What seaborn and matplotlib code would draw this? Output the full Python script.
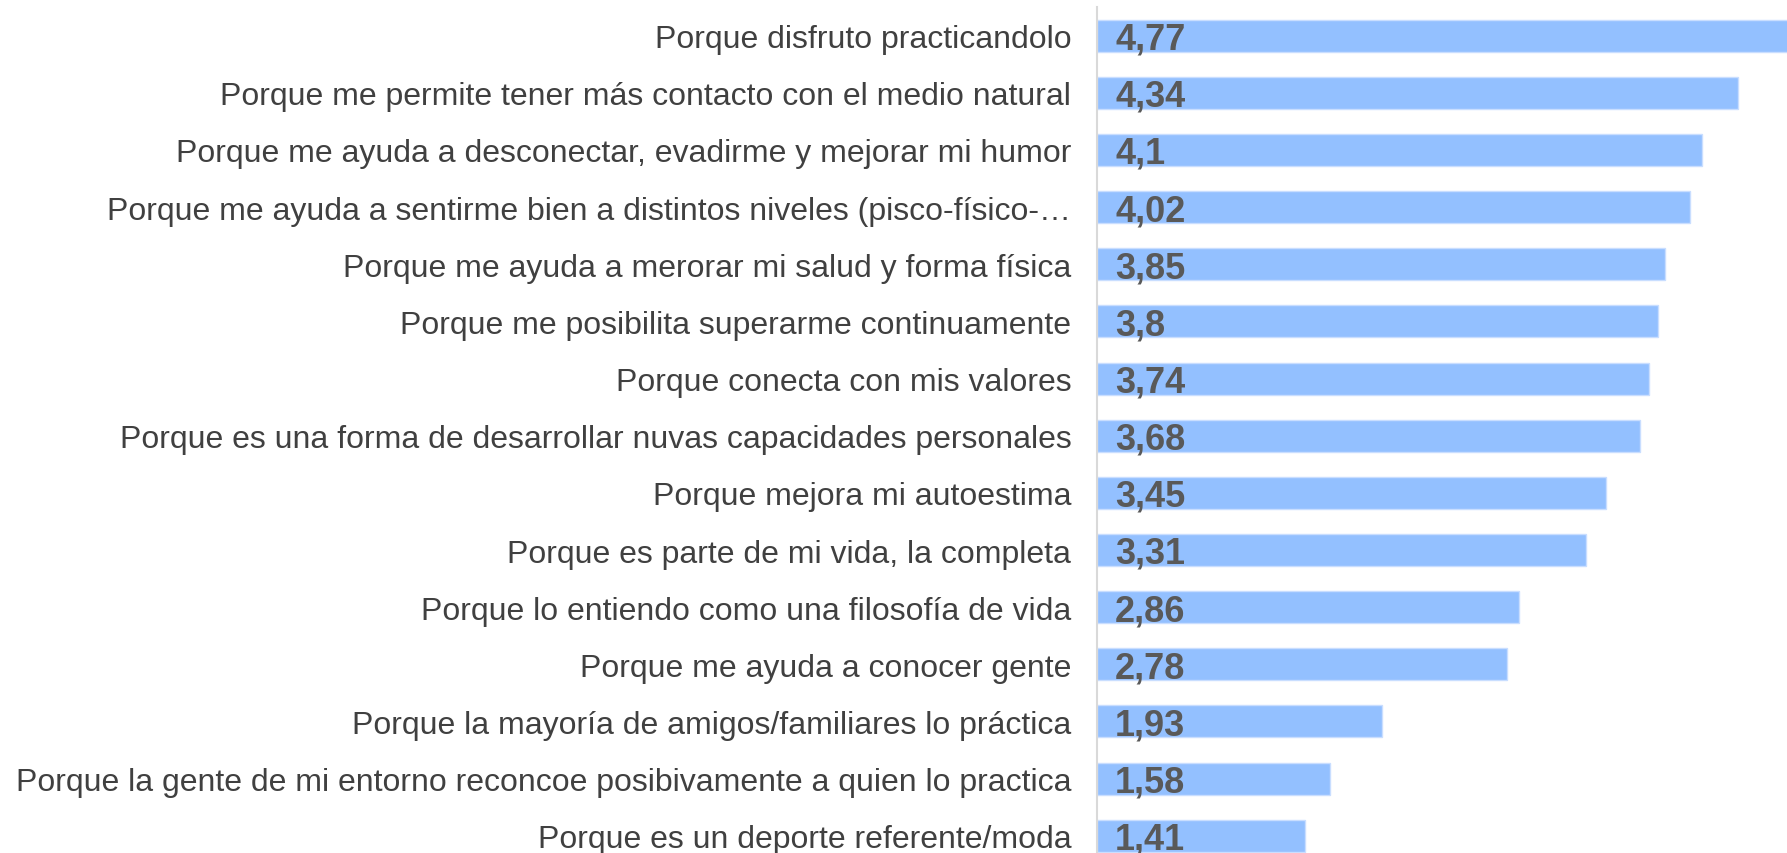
import matplotlib
matplotlib.use('Agg')
import seaborn as sns
from matplotlib import pyplot as plt
import pandas as pd

# motivos y puntuaciones medias
motivos = [
    'Porque disfruto practicandolo',
    'Porque me permite tener más contacto con el medio natural',
    'Porque me ayuda a desconectar, evadirme y mejorar mi humor',
    'Porque me ayuda a sentirme bien a distintos niveles (pisco-físico-…',
    'Porque me ayuda a merorar mi salud y forma física',
    'Porque me posibilita superarme continuamente',
    'Porque conecta con mis valores',
    'Porque es una forma de desarrollar nuvas capacidades personales',
    'Porque mejora mi autoestima',
    'Porque es parte de mi vida, la completa',
    'Porque lo entiendo como una filosofía de vida',
    'Porque me ayuda a conocer gente',
    'Porque la mayoría de amigos/familiares lo práctica',
    'Porque la gente de mi entorno reconcoe posibivamente a quien lo practica',
    'Porque es un deporte referente/moda',
]
medias = [4.77, 4.34, 4.1, 4.02, 3.85, 3.8, 3.74, 3.68, 3.45, 3.31, 2.86, 2.78, 1.93, 1.58, 1.41]

df = pd.DataFrame({'motivo': motivos, 'media': medias})

sns.set_style('white')
plt.rcParams['font.family'] = ['Liberation Sans', 'DejaVu Sans']

fig = plt.figure(figsize=(17.87, 8.54), dpi=100)
ax = fig.add_axes([0.6139, -0.0133, 0.3861, 1.0039])

sns.barplot(data=df, x='media', y='motivo', orient='h', color='#93C0FF',
            saturation=1, width=0.56, ax=ax, edgecolor='#C9DEFF', linewidth=1)

ax.set_xlim(0, 4.675)
ax.set_ylim(14.5, -0.5)
ax.set_xlabel('')
ax.set_ylabel('')
ax.set_xticks([])
ax.tick_params(axis='y', length=0, pad=18.5, labelsize=23, labelcolor='#404040')

for s in ['top', 'right', 'bottom']:
    ax.spines[s].set_visible(False)
ax.spines['left'].set_color('#D9D9D9')
ax.spines['left'].set_linewidth(1.5)

# etiquetas de valor con coma decimal
for i, v in enumerate(medias):
    ax.text(0.122, i + 0.227, str(v).replace('.', ','), va='baseline', ha='left',
            fontsize=26, fontweight='bold', color='#595959')

fig.savefig('out.png', dpi=100)
